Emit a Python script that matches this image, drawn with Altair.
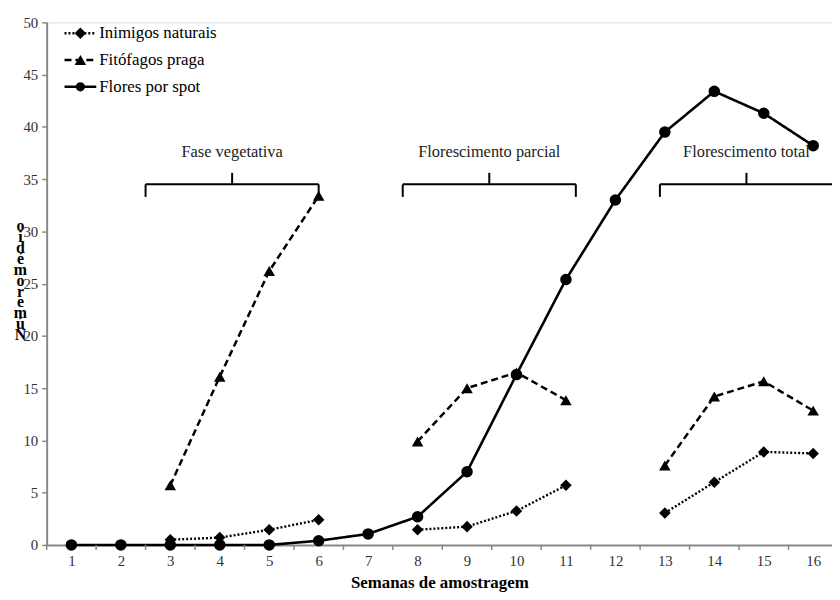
import altair as alt
import pandas as pd

# ---- data ----
weeks = list(range(1, 17))
inimigos = [None, None, 0.5, 0.7, 1.45, 2.4, None, 1.45, 1.75, 3.25, 5.7, None, 3.05, 6.0, 8.9, 8.75]
fitofagos = [None, None, 5.7, 16.1, 26.2, 33.4, None, 9.9, 15.0, 16.5, 13.85, None, 7.6, 14.2, 15.65, 12.85]
flores = [0, 0, 0, 0, 0, 0.4, 1.05, 2.7, 7.0, 16.3, 25.4, 33.0, 39.5, 43.4, 41.3, 38.2]
series_names = ["Inimigos naturais", "Fitófagos praga", "Flores por spot"]

phases = ["Fase vegetativa", "Florescimento parcial", "Florescimento total"]
phase_start = [2.5, 7.7, 12.9]
phase_end = [6.0, 11.2, 16.4]

y_title = ["o", "i", "d", "é", "m", "o", "r", "e", "m", "ú", "N"]

FONT = "Liberation Serif"
W, H = 792, 527

# ---- build tables ----
rows = []
for name, vals in zip(series_names, [inimigos, fitofagos, flores]):
    seg = 0
    for w, v in zip(weeks, vals):
        if v is None:
            seg += 1
            continue
        rows.append({"week": w, "value": v, "series": name, "key": f"{name}-{seg}"})
df = pd.DataFrame(rows)

ph = pd.DataFrame({"phase": phases, "start": phase_start, "end": phase_end})
ph["mid"] = (ph["start"] + ph["end"]) / 2

# category boundaries (Excel-style ticks between weeks)
bounds = pd.DataFrame({"b": [w - 0.5 for w in weeks] + [weeks[-1] + 0.5]})

dash_range = [[2, 2], [7, 4], [1, 0]]
shape_range = ["diamond", "triangle-up", "circle"]
size_range = [135, 135, 85]
width_range = [2.4, 2.6, 2.4]

x_scale = alt.Scale(domain=[0.5, 16.38], nice=False, zero=False)
y_scale = alt.Scale(domain=[0, 50], nice=False)

x_axis = alt.Axis(
    values=weeks,
    format="d",
    labelOverlap=False,
    labelFlush=False,
    ticks=False,
    grid=False,
    title="Semanas de amostragem",
    titleFont=FONT, titleFontSize=17, titleFontWeight="bold", titleColor="black",
    titlePadding=6,
    labelFont=FONT, labelFontSize=15, labelColor="#333",
    labelPadding=9,
    domainColor="#888", domainWidth=2,
)
y_axis = alt.Axis(
    values=list(range(0, 51, 5)),
    grid=False,
    title=y_title,
    titleAngle=0,
    titleFont=FONT, titleFontSize=16, titleFontWeight="bold", titleColor="black",
    titleLineHeight=11,
    titleAlign="center", titleBaseline="top",
    titleX=-27, titleY=197,
    labelFont=FONT, labelFontSize=15, labelColor="#333",
    labelPadding=4,
    tickSize=5, tickColor="#888", tickWidth=1.5,
    domainColor="#888", domainWidth=2,
)

X = alt.X("week:Q", scale=x_scale, axis=x_axis)
Y = alt.Y("value:Q", scale=y_scale, axis=y_axis)

lines = alt.Chart(df).mark_line(color="black").encode(
    x=X, y=Y,
    detail="key:N",
    strokeDash=alt.StrokeDash("series:N", scale=alt.Scale(domain=series_names, range=dash_range), legend=None),
    strokeWidth=alt.StrokeWidth("series:N", scale=alt.Scale(domain=series_names, range=width_range), legend=None),
)
points = alt.Chart(df).mark_point(filled=True, color="black", opacity=1).encode(
    x="week:Q", y="value:Q",
    shape=alt.Shape("series:N", scale=alt.Scale(domain=series_names, range=shape_range), legend=None),
    size=alt.Size("series:N", scale=alt.Scale(domain=series_names, range=size_range), legend=None),
)

# x-axis tick marks at category boundaries, drawn below the axis line
xticks = alt.Chart(bounds).mark_rule(color="#888", strokeWidth=1.5, clip=False).encode(
    x="b:Q", y=alt.value(H), y2=alt.value(H + 5)
)

# ---- phase brackets ----
br = dict(color="black", strokeWidth=2)
brace_h = alt.Chart(ph).mark_rule(**br).encode(x="start:Q", x2="end:Q", y=alt.datum(34.5))
brace_l = alt.Chart(ph).mark_rule(**br).encode(x="start:Q", y=alt.datum(33.3), y2=alt.datum(34.5))
brace_r = alt.Chart(ph).mark_rule(**br).encode(x="end:Q", y=alt.datum(33.3), y2=alt.datum(34.5))
brace_c = alt.Chart(ph).mark_rule(**br).encode(x="mid:Q", y=alt.datum(34.5), y2=alt.datum(35.6))
brace_t = alt.Chart(ph).mark_text(font=FONT, fontSize=16.5, color="#222", baseline="middle").encode(
    x="mid:Q", y=alt.datum(37.6), text="phase:N"
)

# ---- manual legend ----
legend_layers = []
for i, name in enumerate(series_names):
    ly = 11 + 27 * i
    ldf = pd.DataFrame({"name": [name]})
    legend_layers.append(
        alt.Chart(ldf).mark_rule(color="black", strokeWidth=width_range[i], strokeDash=dash_range[i]).encode(
            x=alt.value(18), x2=alt.value(50), y=alt.value(ly)
        )
    )
    legend_layers.append(
        alt.Chart(ldf).mark_point(filled=True, color="black", opacity=1, shape=shape_range[i], size=size_range[i]).encode(
            x=alt.value(34), y=alt.value(ly)
        )
    )
    legend_layers.append(
        alt.Chart(ldf).mark_text(font=FONT, fontSize=17, color="black", align="left", baseline="middle").encode(
            x=alt.value(53), y=alt.value(ly), text="name:N"
        )
    )

chart = alt.layer(
    lines, points, xticks, brace_h, brace_l, brace_r, brace_c, brace_t, *legend_layers
).properties(
    width=W, height=H,
    autosize=alt.AutoSizeParams(type="none"),
    padding={"left": 39, "top": 12, "right": 0, "bottom": 45},
).configure_view(stroke=None).configure(background="white")

chart.save("out.html", embed_options={"renderer": "svg", "actions": False})
